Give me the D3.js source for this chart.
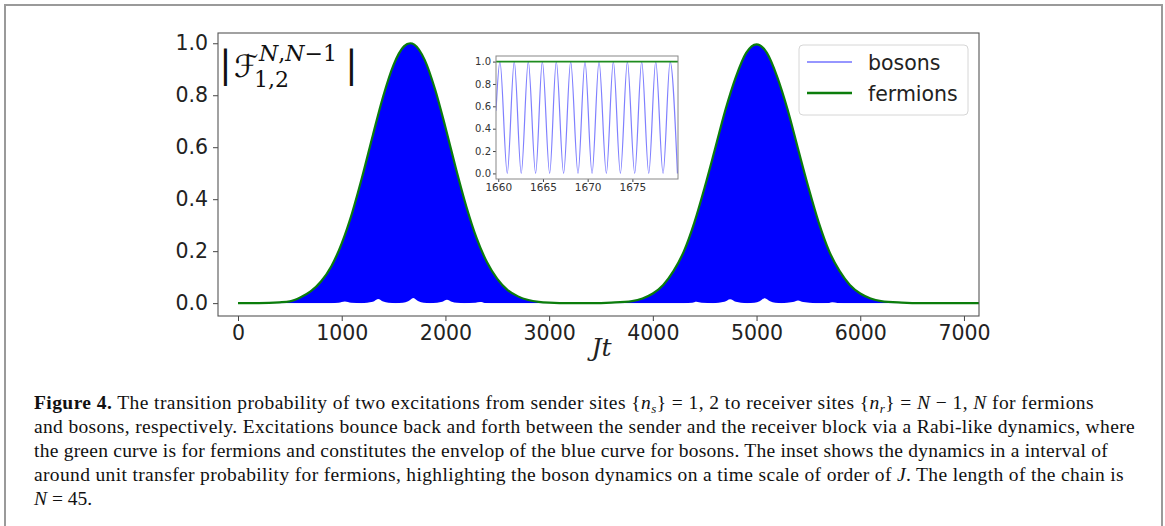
<!DOCTYPE html>
<html><head><meta charset="utf-8">
<script src="https://cdn.jsdelivr.net/npm/d3@7"></script>
<style>body{margin:0;background:#fff}svg{display:block}</style>
</head><body>
<svg id="c" width="1165" height="526"></svg>
<script>
// ---------------- data ----------------
const mainXTicks = [0, 1000, 2000, 3000, 4000, 5000, 6000, 7000];
const mainYTicks = [0, 0.2, 0.4, 0.6, 0.8, 1.0];
const insetXTicks = [1660, 1665, 1670, 1675];
const insetYTicks = [0, 0.2, 0.4, 0.6, 0.8, 1.0];

// fermions: transfer probability (envelope)
const fermionT = [0, 200, 400, 500, 600, 700, 800, 900, 1000, 1100, 1200, 1300, 1400, 1500, 1600, 1660, 1700, 1800, 1900, 2000, 2100, 2200, 2300, 2400, 2500, 2600, 2700, 2800, 2900, 3000, 3200,
  3400, 3600, 3800, 3900, 4000, 4100, 4200, 4300, 4400, 4500, 4600, 4700, 4800, 4900, 5000, 5100, 5200, 5300, 5400, 5500, 5600, 5700, 5800, 5900, 6000, 6100, 6200, 6400, 6600, 7200];
const fermionV = [0, 0, 0.003, 0.007, 0.022, 0.045, 0.083, 0.142, 0.23, 0.347, 0.49, 0.646, 0.796, 0.917, 0.988, 1.0, 0.995, 0.936, 0.823, 0.677, 0.52, 0.374, 0.251, 0.158, 0.093, 0.05, 0.026, 0.012, 0.005, 0.002, 0,
  0, 0.002, 0.008, 0.018, 0.037, 0.07, 0.124, 0.2, 0.31, 0.446, 0.594, 0.744, 0.87, 0.963, 0.996, 0.963, 0.87, 0.744, 0.594, 0.446, 0.31, 0.2, 0.124, 0.07, 0.037, 0.018, 0.008, 0.002, 0, 0];

// bosons: lower envelope of the fast oscillation (the scalloped bottom edge of the blue)
const bosonLowT = [0, 900, 970, 1030, 1090, 1190, 1300, 1350, 1400, 1450, 1520, 1590, 1640, 1690, 1740, 1790, 1850, 1920, 1970, 2015, 2060, 2110, 2180, 2290, 2335, 2380, 2500,
  4300, 4380, 4420, 4470, 4580, 4690, 4745, 4800, 4850, 4910, 4980, 5030, 5080, 5130, 5180, 5240, 5350, 5400, 5450, 5570, 5700, 5730, 5780, 5900, 7200];
const bosonLowV = [0, 0, 0.0015, 0.006, 0.0015, 0, 0.005, 0.016, 0.006, 0.0015, 0, 0.0015, 0.007, 0.02, 0.007, 0.0015, 0, 0.0015, 0.005, 0.013, 0.005, 0.0012, 0, 0.0012, 0.004, 0.001, 0,
  0, 0.0015, 0.005, 0.0015, 0, 0.005, 0.015, 0.005, 0.0015, 0, 0.0015, 0.007, 0.019, 0.007, 0.0015, 0, 0.004, 0.01, 0.004, 0, 0.001, 0.003, 0.001, 0, 0];

// inset: bosons oscillate between 0 and 1 on the scale of J (peaks / troughs)
const insetBosonT = [1659.75, 1660.19, 1661.01, 1661.79, 1662.57, 1663.36, 1664.18, 1664.93, 1665.75, 1666.49, 1667.31, 1668.10, 1668.92, 1669.70, 1670.49, 1671.27, 1672.09, 1672.87, 1673.66, 1674.44, 1675.26, 1676.04, 1676.83, 1677.61, 1678.43, 1679.22, 1680.04];
const insetBosonV = [0.56, 1, 0, 1, 0, 1, 0, 1, 0, 1, 0, 1, 0, 1, 0, 1, 0, 1, 0, 1, 0, 1, 0, 1, 0, 1, 0];
const insetFermionT = [1659.75, 1680.1];
const insetFermionV = [1.0, 1.0];

const legendLabels = ["bosons", "fermions"];

const captionLines = [
  [["Figure 4.", "b"], [" The transition probability of two excitations from sender sites {", ""], ["n", "i"], ["s", "sub"], ["} = 1, 2 to receiver sites {", ""], ["n", "i"], ["r", "sub"], ["} = ", ""], ["N", "i"], [" − 1, ", ""], ["N", "i"], [" for fermions", ""]],
  [["and bosons, respectively. Excitations bounce back and forth between the sender and the receiver block via a Rabi-like dynamics, where", ""]],
  [["the green curve is for fermions and constitutes the envelop of the blue curve for bosons. The inset shows the dynamics in a interval of", ""]],
  [["around unit transfer probability for fermions, highlighting the boson dynamics on a time scale of order of ", ""], ["J", "i"], [". The length of the chain is", ""]],
  [["N", "i"], [" = 45.", ""]]
];
const captionWidths = [1060, 1101, 1074, 1090, null];

// ---------------- drawing ----------------
const svg = d3.select("#c");
const tickFont = "DejaVu Sans, Verdana, sans-serif";

svg.append("rect").attr("x", 5).attr("y", 5).attr("width", 1157).attr("height", 600)
  .attr("fill", "none").attr("stroke", "#9a9a9a").attr("stroke-width", 2);

// main axes
const M = {l: 218, r: 979, t: 33, b: 316};
const x = d3.scaleLinear().domain([-193, 7145]).range([M.l, M.r]);
const y = d3.scaleLinear().domain([-0.0495, 1.0395]).range([M.b, M.t]);

svg.append("clipPath").attr("id", "clipMain").append("rect")
  .attr("x", M.l).attr("y", M.t).attr("width", M.r - M.l).attr("height", M.b - M.t);

const fermion = fermionT.map((t, i) => ({t, v: fermionV[i]}));
const bosonLow = bosonLowT.map((t, i) => ({t, v: bosonLowV[i]}));

const plot = svg.append("g").attr("clip-path", "url(#clipMain)");
plot.append("path").datum(fermion)
  .attr("d", d3.area().x(d => x(d.t)).y0(y(0)).y1(d => y(d.v)).curve(d3.curveMonotoneX))
  .attr("fill", "#0000ff");
plot.append("path").datum(bosonLow)
  .attr("d", d3.area().x(d => x(d.t)).y0(y(-0.006)).y1(d => y(d.v)).curve(d3.curveMonotoneX))
  .attr("fill", "#ffffff");
plot.append("path").datum(fermion)
  .attr("d", d3.line().x(d => x(d.t)).y(d => y(d.v)).curve(d3.curveMonotoneX))
  .attr("fill", "none").attr("stroke", "#0b7d0b").attr("stroke-width", 2.2);

function styleAxis(g, size, color) {
  g.select(".domain").remove();
  g.selectAll(".tick line").attr("stroke", "#444").attr("stroke-width", 1);
  g.selectAll(".tick text").attr("font-family", tickFont).attr("font-size", size).attr("fill", color);
}

svg.append("g").attr("transform", `translate(0,${M.b})`)
  .call(d3.axisBottom(x).tickValues(mainXTicks).tickSize(5).tickPadding(4).tickFormat(d3.format("d")))
  .call(g => styleAxis(g, 20.5, "#222"));
svg.append("g").attr("transform", `translate(${M.l},0)`)
  .call(d3.axisLeft(y).tickValues(mainYTicks).tickSize(5).tickPadding(5).tickFormat(d3.format(".1f")))
  .call(g => styleAxis(g, 20.5, "#222"));
svg.append("rect").attr("x", M.l).attr("y", M.t).attr("width", M.r - M.l).attr("height", M.b - M.t)
  .attr("fill", "none").attr("stroke", "#555").attr("stroke-width", 1.1);

// x label
svg.append("text").attr("x", (M.l + M.r) / 2 + 3).attr("y", 356).attr("text-anchor", "middle")
  .attr("font-family", "DejaVu Serif, serif").attr("font-style", "italic").attr("font-size", 25).attr("fill", "#222").text("Jt");

// formula label
const fl = svg.append("g").attr("fill", "#111").attr("font-family", "DejaVu Serif, serif");
fl.append("text").attr("x", 219).attr("y", 77).attr("font-size", 38).attr("font-weight", 300).text("|");
fl.append("text").attr("x", 234).attr("y", 77).attr("font-size", 31).attr("font-family", "DejaVu Sans, sans-serif").text("ℱ");
const sup = fl.append("text").attr("x", 259).attr("y", 61).attr("font-size", 22);
sup.append("tspan").attr("font-style", "italic").text("N");
sup.append("tspan").text(",");
sup.append("tspan").attr("font-style", "italic").text("N");
sup.append("tspan").text("−1");
fl.append("text").attr("x", 254).attr("y", 87).attr("font-size", 22).text("1,2");
fl.append("text").attr("x", 345).attr("y", 77).attr("font-size", 38).text("|");

// legend
const L = {x: 799, y: 45, w: 169, h: 70};
svg.append("rect").attr("x", L.x).attr("y", L.y).attr("width", L.w).attr("height", L.h).attr("rx", 4)
  .attr("fill", "#fff").attr("fill-opacity", 0.85).attr("stroke", "#d6d6d6").attr("stroke-width", 1);
const legendStyles = [{stroke: "#0000ff", op: 0.55, w: 1.5}, {stroke: "#0b7d0b", op: 1, w: 2.5}];
legendLabels.forEach((lab, i) => {
  const cy = 62 + i * 31;
  svg.append("line").attr("x1", 807).attr("x2", 852).attr("y1", cy).attr("y2", cy)
    .attr("stroke", legendStyles[i].stroke).attr("stroke-opacity", legendStyles[i].op).attr("stroke-width", legendStyles[i].w);
  svg.append("text").attr("x", 868).attr("y", cy + 7.5).attr("font-family", tickFont).attr("font-size", 20.5)
    .attr("fill", "#222").text(lab);
});

// inset
const I = {l: 496, r: 678, t: 56, b: 179};
const xi = d3.scaleLinear().domain([1659.75, 1680.1]).range([I.l, I.r]);
const yi = d3.scaleLinear().domain([-0.05, 1.05]).range([I.b, I.t]);
svg.append("rect").attr("x", I.l).attr("y", I.t).attr("width", I.r - I.l).attr("height", I.b - I.t).attr("fill", "#fff");
svg.append("clipPath").attr("id", "clipInset").append("rect")
  .attr("x", I.l).attr("y", I.t).attr("width", I.r - I.l).attr("height", I.b - I.t);
const ip = svg.append("g").attr("clip-path", "url(#clipInset)");
ip.append("path").datum(insetBosonT.map((t, i) => ({t, v: insetBosonV[i]})))
  .attr("d", d3.line().x(d => xi(d.t)).y(d => yi(d.v)).curve(d3.curveMonotoneX))
  .attr("fill", "none").attr("stroke", "#0000ff").attr("stroke-opacity", 0.5).attr("stroke-width", 1.2);
ip.append("path").datum(insetFermionT.map((t, i) => ({t, v: insetFermionV[i]})))
  .attr("d", d3.line().x(d => xi(d.t)).y(d => yi(d.v)))
  .attr("fill", "none").attr("stroke", "#1e8c1e").attr("stroke-width", 1.6);
svg.append("g").attr("transform", `translate(0,${I.b})`)
  .call(d3.axisBottom(xi).tickValues(insetXTicks).tickSize(3).tickPadding(2).tickFormat(d3.format("d")))
  .call(g => styleAxis(g, 10.5, "#333"));
svg.append("g").attr("transform", `translate(${I.l},0)`)
  .call(d3.axisLeft(yi).tickValues(insetYTicks).tickSize(3).tickPadding(2).tickFormat(d3.format(".1f")))
  .call(g => styleAxis(g, 10, "#333"));
svg.append("rect").attr("x", I.l).attr("y", I.t).attr("width", I.r - I.l).attr("height", I.b - I.t)
  .attr("fill", "none").attr("stroke", "#888").attr("stroke-width", 1);

// caption
captionLines.forEach((segs, li) => {
  const t = svg.append("text").attr("x", 34).attr("y", 409 + li * 24)
    .attr("font-family", "Liberation Serif, Times New Roman, serif").attr("font-size", 19.5).attr("fill", "#111")
    .attr("xml:space", "preserve");
  let prevSub = false;
  segs.forEach(([s, st]) => {
    const ts = t.append("tspan").text(s);
    if (st === "b") ts.attr("font-weight", "bold");
    if (st === "i") ts.attr("font-style", "italic");
    if (st === "sub") ts.attr("font-style", "italic").attr("font-size", 13).attr("dy", 4);
    else if (prevSub) ts.attr("dy", -4);
    prevSub = st === "sub";
  });
  const target = captionWidths[li];
  if (target) {
    const nat = t.node().getComputedTextLength();
    const chars = segs.map(s => s[0]).join("").length;
    t.attr("letter-spacing", (target - nat) / chars);
  }
});
</script>
</body></html>
